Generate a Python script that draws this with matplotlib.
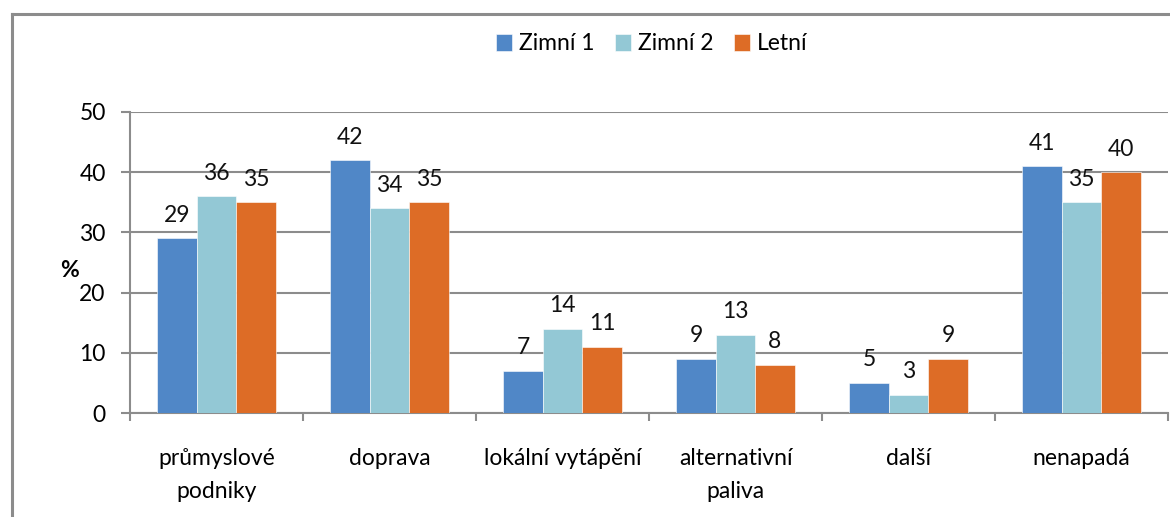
import numpy as np
import matplotlib
matplotlib.use("Agg")
import matplotlib.pyplot as plt
from matplotlib.lines import Line2D

plt.rcParams['font.family'] = ['Lato', 'DejaVu Sans']

categories = ['průmyslové\npodniky', 'doprava', 'lokální vytápění',
              'alternativní\npaliva', 'další', 'nenapadá']
series_names = ['Zimní 1', 'Zimní 2', 'Letní']
zimni1 = [29, 42, 7, 9, 5, 41]
zimni2 = [36, 34, 14, 13, 3, 35]
letni = [35, 35, 11, 8, 9, 40]
y_ticks = [0, 10, 20, 30, 40, 50]

colors = ['#5087C7', '#93C8D5', '#DD6C26']
grey = '#8C8C8C'
fs = 16.5

fig = plt.figure(figsize=(11.7, 5.17), dpi=100)
ax = fig.add_axes([130/1170, 1 - 413/517, 1038/1170, 301/517])

x = np.arange(len(categories))
w = 0.228
for i, (vals, name) in enumerate(zip([zimni1, zimni2, letni], series_names)):
    pos = x + (i - 1) * w
    ax.bar(pos, vals, width=w, color=colors[i], label=name,
           edgecolor='white', linewidth=0.4, zorder=3)
    for xp, v in zip(pos, vals):
        ax.annotate(str(v), xy=(xp, v), xytext=(0, 9), textcoords='offset points',
                    ha='center', va='bottom', fontsize=fs, color='#111111', zorder=4)

ax.set_xlim(-0.5, len(categories) - 0.5)
ax.set_ylim(0, 50)
ax.set_yticks(y_ticks)
ax.yaxis.grid(True, color=grey, linewidth=1.5, zorder=0)
ax.set_axisbelow(True)

# boundaries as major ticks, labels on minor ticks
ax.set_xticks(np.arange(len(categories) + 1) - 0.5)
ax.set_xticklabels([])
ax.set_xticks(x, minor=True)
ax.set_xticklabels(categories, minor=True, fontsize=fs, linespacing=1.7)
ax.tick_params(axis='x', which='major', direction='out', length=6, width=1.5, color=grey)
ax.tick_params(axis='x', which='minor', length=0, pad=25)
ax.tick_params(axis='y', direction='out', length=6.5, width=1.5, color=grey,
               labelsize=fs, pad=11)

for s in ['top', 'right']:
    ax.spines[s].set_visible(False)
for s in ['left', 'bottom']:
    ax.spines[s].set_color(grey)
    ax.spines[s].set_linewidth(1.5)

ax.text(-0.058, 0.475, '%', transform=ax.transAxes, fontsize=fs,
        fontweight='bold', ha='center', va='center')

fig.legend(loc='center', bbox_to_anchor=(652/1170, 1 - 44/517), ncol=3,
           frameon=False, fontsize=fs, handlelength=0.7, handleheight=0.7,
           handletextpad=0.3, columnspacing=0.9)

# outer chart frame
fig.add_artist(Line2D([12/1170, 12/1170], [0, 1 - 14/517], color=grey, lw=2.2,
                      transform=fig.transFigure))
fig.add_artist(Line2D([12/1170, 1], [1 - 14/517, 1 - 14/517], color=grey, lw=2.2,
                      transform=fig.transFigure))

fig.savefig('out.png', dpi=100)
